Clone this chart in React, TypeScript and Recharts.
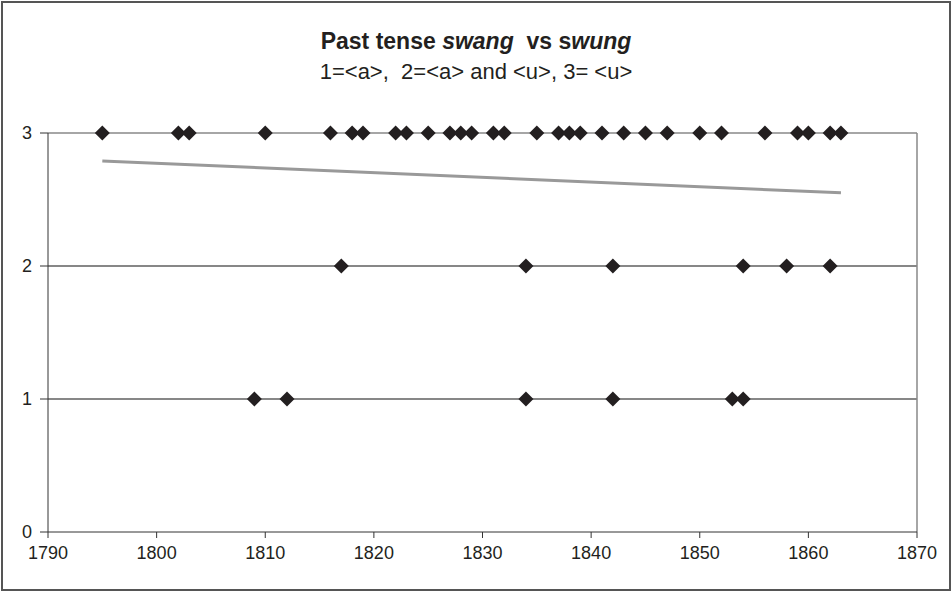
import React from "react";
import { ScatterChart, Scatter, XAxis, YAxis, ReferenceLine } from "recharts";

// years observed at each level (1=<a>, 2=<a> and <u>, 3=<u>)
const row3Years = [
  1795, 1802, 1803, 1810, 1816, 1818, 1819, 1822, 1823, 1825, 1827, 1828, 1829, 1831, 1832,
  1835, 1837, 1838, 1839, 1841, 1843, 1845, 1847, 1850, 1852, 1856, 1859, 1860, 1862, 1863,
];
const row2Years = [1817, 1834, 1842, 1854, 1858, 1862];
const row1Years = [1809, 1812, 1834, 1842, 1853, 1854];

// linear trend, end points
const trendYears = [1795, 1863];
const trendValues = [2.79, 2.55];

const xTicks = [1790, 1800, 1810, 1820, 1830, 1840, 1850, 1860, 1870];
const yTicks = [0, 1, 2, 3];

const points = [
  ...row3Years.map((year) => ({ year, value: 3 })),
  ...row2Years.map((year) => ({ year, value: 2 })),
  ...row1Years.map((year) => ({ year, value: 1 })),
];
const trend = trendYears.map((year, i) => ({ year, value: trendValues[i] }));

const FONT = "'Liberation Sans', Arial, sans-serif";

const renderXTick = (props: any) => {
  const { x, y, payload } = props;
  return (
    <text x={x} y={y + 17} textAnchor="middle" style={{ fontSize: 18, fontFamily: FONT, fill: "#231f20" }}>
      {payload.value}
    </text>
  );
};

const renderYTick = (props: any) => {
  const { x, y, payload } = props;
  return (
    <text x={x} y={y + 6} textAnchor="end" style={{ fontSize: 18, fontFamily: FONT, fill: "#231f20" }}>
      {payload.value}
    </text>
  );
};

function Diamond(props: any) {
  const { cx, cy } = props;
  if (cx == null || cy == null) return null;
  const r = 7.5;
  return (
    <polygon
      points={`${cx},${cy - r} ${cx + r},${cy} ${cx},${cy + r} ${cx - r},${cy}`}
      fill="#231f20"
    />
  );
}

export default function App() {
  return (
    <div
      style={{
        position: "absolute",
        left: 0,
        top: 0,
        width: 952,
        height: 592,
        background: "#fff",
        fontFamily: FONT,
      }}
    >
      <div
        style={{
          position: "absolute",
          left: 1,
          top: 1,
          width: 950,
          height: 590,
          boxSizing: "border-box",
          border: "2px solid #555",
        }}
      />
      <div
        style={{
          position: "absolute",
          left: 0,
          top: 27,
          width: 952,
          textAlign: "center",
          fontSize: 23,
          fontWeight: "bold",
          color: "#231f20",
          lineHeight: "28px",
        }}
      >
        Past tense <i>swang</i>&nbsp; vs s<i>wung</i>
      </div>
      <div
        style={{
          position: "absolute",
          left: 0,
          top: 59,
          width: 952,
          textAlign: "center",
          fontSize: 22,
          color: "#231f20",
          lineHeight: "26px",
          whiteSpace: "pre",
        }}
      >
        {"1=<a>,  2=<a> and <u>, 3= <u>"}
      </div>
      <div style={{ position: "absolute", left: 0, top: 0 }}>
        <ScatterChart width={952} height={592} margin={{ top: 133, right: 35, bottom: 30, left: 0 }}>
          <XAxis
            type="number"
            dataKey="year"
            domain={[1790, 1870]}
            ticks={xTicks}
            interval={0}
            height={30}
            tick={renderXTick}
            tickSize={6}
            tickMargin={4}
            stroke="#333"
            allowDataOverflow
          />
          <YAxis
            type="number"
            dataKey="value"
            domain={[0, 3]}
            ticks={yTicks}
            interval={0}
            width={48}
            tick={renderYTick}
            tickSize={8}
            tickMargin={8}
            stroke="#333"
          />
          <ReferenceLine y={1} stroke="#111" strokeWidth={1.2} />
          <ReferenceLine y={2} stroke="#111" strokeWidth={1.2} />
          <ReferenceLine y={3} stroke="#888" strokeWidth={1.5} />
          <ReferenceLine x={1870} stroke="#888" strokeWidth={1.5} />
          <Scatter
            data={trend}
            line={{ stroke: "#999", strokeWidth: 3 }}
            shape={() => null}
            isAnimationActive={false}
          />
          <Scatter data={points} shape={Diamond} isAnimationActive={false} />
        </ScatterChart>
      </div>
    </div>
  );
}
